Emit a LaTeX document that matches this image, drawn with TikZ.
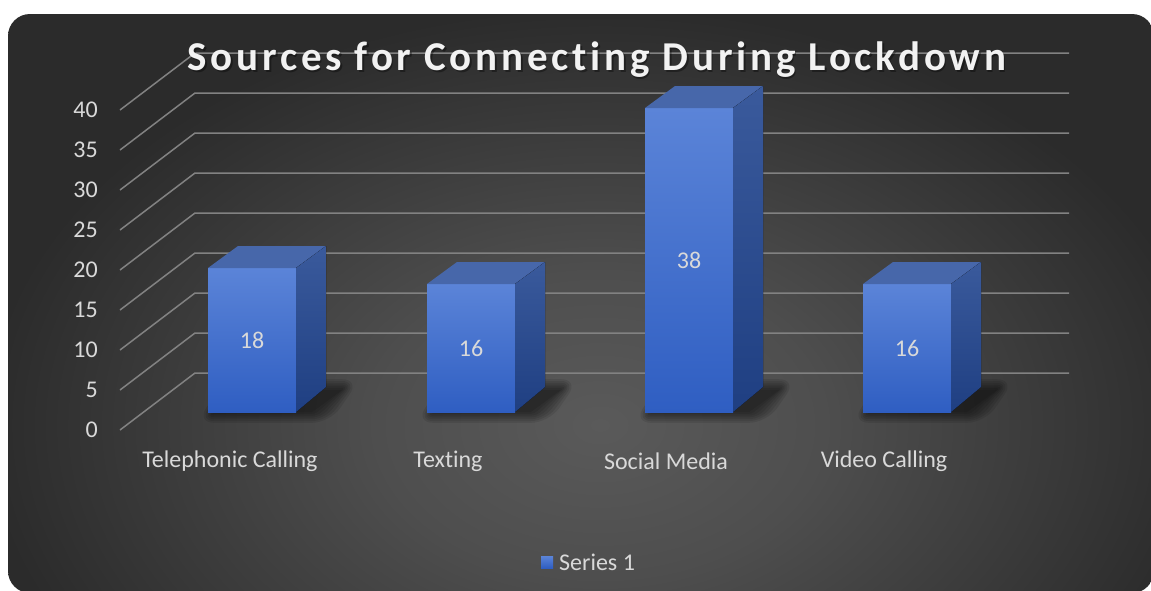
\documentclass[tikz,border=0pt]{standalone}
\usepackage{fontspec}
\setmainfont[Ligatures=NoCommon]{Carlito}
\newfontfamily\titlefont[LetterSpace=9.2,Ligatures=NoCommon]{Carlito}
\usetikzlibrary{calc}
\definecolor{txt}{HTML}{D9D9D9}
\definecolor{titlec}{HTML}{F2F2F2}
\definecolor{gridc}{HTML}{828282}
\definecolor{frontT}{HTML}{5B84D8}
\definecolor{frontB}{HTML}{2F5EC2}
\definecolor{topc}{HTML}{4767AA}
\definecolor{sideT}{HTML}{3A5A9C}
\definecolor{sideB}{HTML}{1F3F82}
\definecolor{bgA}{HTML}{5A5A5A}
\definecolor{bgB}{HTML}{4E4E4E}
\definecolor{bgC}{HTML}{2B2B2B}
\pgfdeclareradialshading{chartbg}{\pgfpoint{0bp}{0bp}}{color(0bp)=(bgA); color(8bp)=(bgB); color(22bp)=(bgC); color(50bp)=(bgC)}
\tikzset{
  gridline/.style={gridc, line width=1.5pt},
  axislabel/.style={txt, font=\fontsize{24}{26}\selectfont, anchor=east, inner sep=0pt},
  catlabel/.style={txt, font=\fontsize{24}{26}\selectfont, inner sep=0pt},
  barlabel/.style={txt, font=\fontsize{24}{26}\selectfont, inner sep=0pt},
  frontface/.style={top color=frontT, bottom color=frontB},
  topface/.style={fill=topc},
  sideface/.style={top color=sideT, bottom color=sideB},
  shadowlayer/.style={black, opacity=0.09},
}
\newcommand{\chartbar}[4]{% name, center x, value, label
  \pgfmathsetmacro{\fl}{#2-44}
  \pgfmathsetmacro{\fr}{#2+44}
  \pgfmathsetmacro{\yt}{412-8*#3}
  \foreach \r in {0,3,...,18}{
    \fill[shadowlayer, rounded corners=\r pt]
      (\fl+6-\r,412+0.6*\r) -- (\fr+16+\r,412+0.6*\r) -- (\fr+46+\r,390-0.6*\r) -- (\fl+36-\r,390-0.6*\r) -- cycle;
  }
  \fill[frontface] (\fl,412) rectangle (\fr,\yt);
  \fill[topface] (\fl,\yt) -- (\fl+30,\yt-22) -- (\fr+30,\yt-22) -- (\fr,\yt) -- cycle;
  \fill[sideface] (\fr,\yt) -- (\fr+30,\yt-22) -- (\fr+30,387) -- (\fr,412) -- cycle;
  \node[barlabel] (#1) at (#2,{(412+\yt)/2}) {#4};
}
\begin{document}
\begin{tikzpicture}[x=1pt,y=-1pt]
\useasboundingbox (0,0) rectangle (1151,590);
\fill[white] (0,0) rectangle (1151,590);
\begin{scope}
  \clip[rounded corners=22pt] (8,14) rectangle (1154,593);
  \shade[shading=chartbg] (-100,-50) rectangle (1300,900);
\end{scope}
% grid
\foreach \k in {0,...,8}{
  \draw[gridline] (120,430-40*\k) -- (195,373-40*\k) -- (1069,373-40*\k);
  \pgfmathtruncatemacro{\lab}{5*\k}
  \node[axislabel] (ax\k) at (98,430-40*\k) {\lab};
}
% title
\node[black, opacity=0.35, font=\titlefont\bfseries\fontsize{41}{44}\selectfont, anchor=base, inner sep=0pt] (titleshadow) at (598.5,72.5) {Sources for Connecting During Lockdown};
\node[titlec, font=\titlefont\bfseries\fontsize{41}{44}\selectfont, anchor=base, inner sep=0pt] (title) at (597,70) {Sources for Connecting During Lockdown};
% bars
\chartbar{b1}{252}{18}{18}
\chartbar{b2}{471}{16}{16}
\chartbar{b3}{689}{38}{38}
\chartbar{b4}{907}{16}{16}
% categories
\node[catlabel] (c1) at (230,461) {Telephonic Calling};
\node[catlabel] (c2) at (448,461) {Texting};
\node[catlabel] (c3) at (666,461) {Social Media};
\node[catlabel] (c4) at (884,461) {Video Calling};
% legend
\fill[frontface] (541,556) rectangle (553,568);
\node[txt, font=\fontsize{24}{26}\selectfont, anchor=west, inner sep=0pt] (leg) at (559,562) {Series 1};
\end{tikzpicture}
\end{document}
